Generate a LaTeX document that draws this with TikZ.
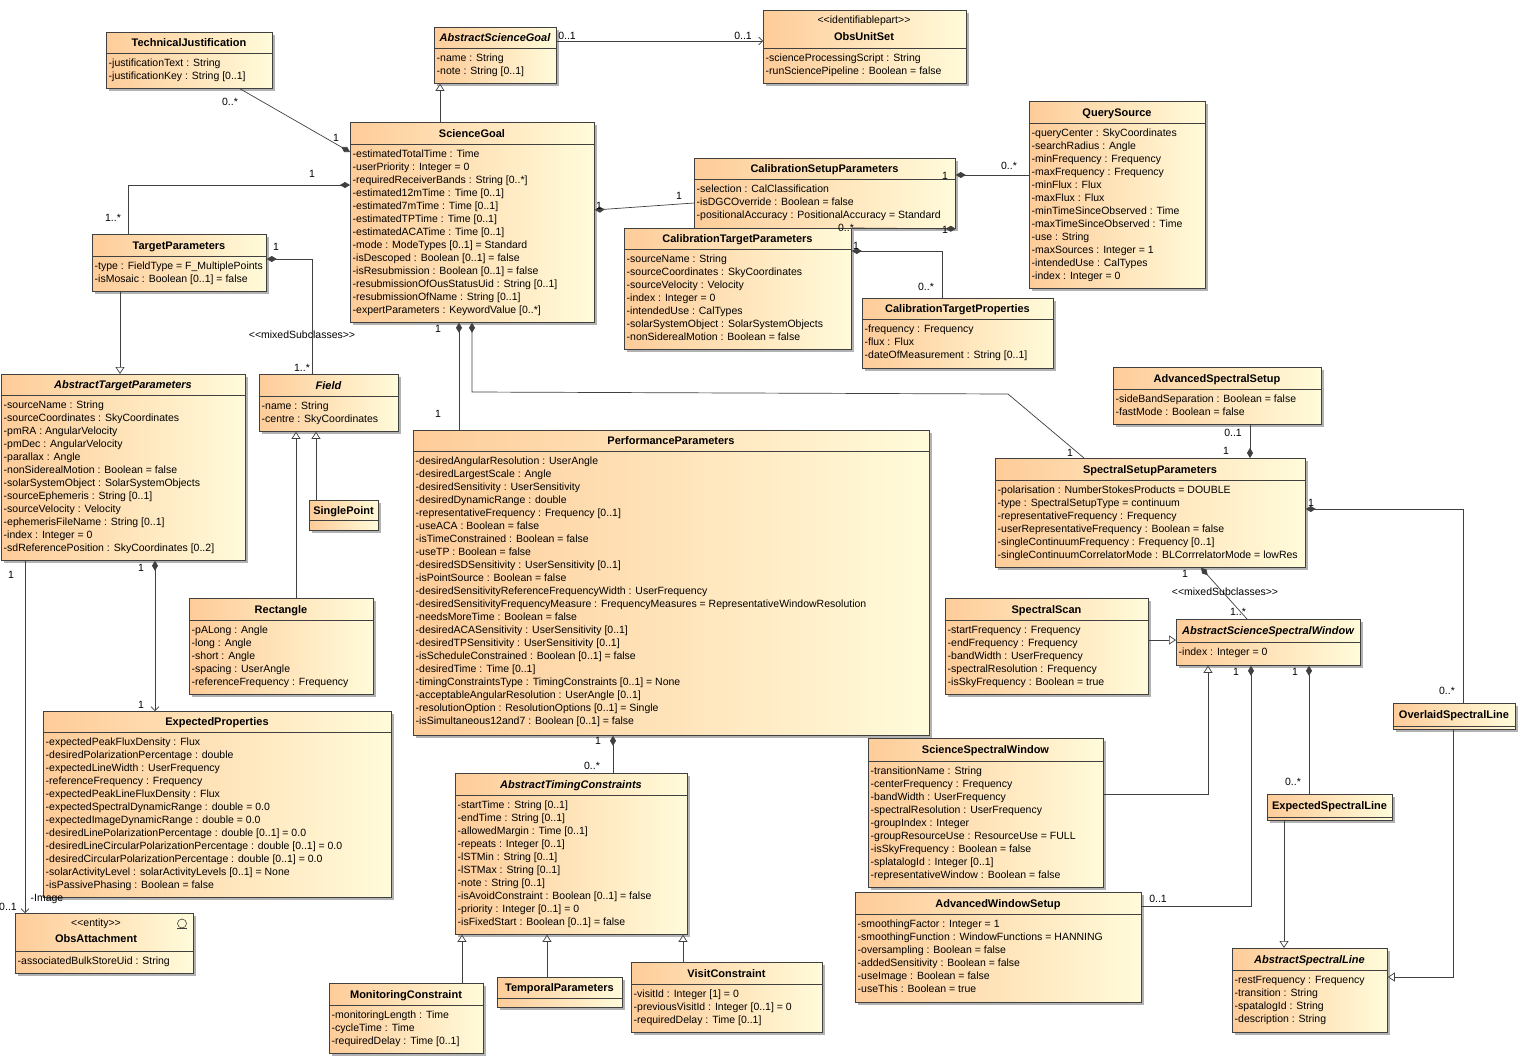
\documentclass[tikz,border=0pt]{standalone}
\usepackage{fontspec}
\setmainfont{Liberation Sans}
\usetikzlibrary{arrows.meta,shadows}
\definecolor{clsA}{RGB}{254,204,153}
\definecolor{clsB}{RGB}{255,251,218}
\definecolor{clsborder}{RGB}{64,64,64}
\definecolor{assoc}{RGB}{64,64,64}

\tikzset{
  cls/.style={draw=clsborder, line width=0.8pt, left color=clsA, right color=clsB, inner sep=0pt,
    drop shadow={shadow xshift=3pt, shadow yshift=-3pt, fill=black!30, opacity=1}},
  clsline/.style={draw=clsborder, line width=0.8pt},
  clsname/.style={anchor=base, inner sep=0pt, font=\fontsize{11}{13}\selectfont\bfseries},
  clsattr/.style={anchor=north west, inner sep=0pt, align=left},
  stereo/.style={anchor=base, inner sep=0pt},
  mult/.style={inner sep=0pt},
  link/.style={draw=assoc, line width=0.7pt},
  comp/.style={link, arrows={Diamond[length=10pt,width=6pt]-}},
  compnav/.style={link, arrows={Diamond[length=10pt,width=6pt]-Straight Barb[length=4pt,width=8pt]}},
  nav/.style={link, arrows={-Straight Barb[length=4pt,width=8pt]}},
  gen/.style={link, arrows={-Triangle[length=7pt,width=9pt,fill=white]}}
}

\newcommand{\lguil}{<\kern0pt<}
\newcommand{\rguil}{>\kern0pt>}
% name, left, top, right, separator, bottom, title, attributes
\newcommand{\umlclass}[8]{%
  \node[cls, anchor=north west, minimum width={(#4)-(#2)}, minimum height={(#6)-(#3)}] (#1) at (#2,#3) {};
  \draw[clsline] (#2,#5) -- (#4,#5);
  \node[clsname] (#1-n) at ({(#2+#4)/2},{(#3+#5)/2+4}) {#7};
  \node[clsattr] (#1-a) at (#2+2.5,#5+4.5) {\rule{0pt}{9pt}#8};
}

\begin{document}
\begin{tikzpicture}[x=1pt, y=-1pt, font=\fontsize{10.5}{13}\selectfont]
\fill[white] (0,0) rectangle (1534,1063);
\useasboundingbox (0,0) rectangle (1534,1063);

\umlclass{tj}{106}{32}{272}{53}{88}{TechnicalJustification}{-justificationText : String\\-justificationKey : String [0..1]}
\umlclass{asg}{434}{27}{556}{48}{83}{\itshape AbstractScienceGoal}{-name : String\\-note : String [0..1]}
\umlclass{ous}{763}{10}{966}{48}{83}{}{-scienceProcessingScript : String\\-runSciencePipeline : Boolean = false}
\node[stereo] (ous-s) at (864,23.5) {\lguil identifiablepart\rguil};
\node[clsname] (ous-t) at (864,40) {ObsUnitSet};
\umlclass{sg}{350}{122}{594}{144}{322}{ScienceGoal}{-estimatedTotalTime : Time\\-userPriority : Integer = 0\\-requiredReceiverBands : String [0..*]\\-estimated12mTime : Time [0..1]\\-estimated7mTime : Time [0..1]\\-estimatedTPTime : Time [0..1]\\-estimatedACATime : Time [0..1]\\-mode : ModeTypes [0..1] = Standard\\-isDescoped : Boolean [0..1] = false\\-isResubmission : Boolean [0..1] = false\\-resubmissionOfOusStatusUid : String [0..1]\\-resubmissionOfName : String [0..1]\\-expertParameters : KeywordValue [0..*]}
\umlclass{qs}{1029}{101}{1205}{123}{288}{QuerySource}{-queryCenter : SkyCoordinates\\-searchRadius : Angle\\-minFrequency : Frequency\\-maxFrequency : Frequency\\-minFlux : Flux\\-maxFlux : Flux\\-minTimeSinceObserved : Time\\-maxTimeSinceObserved : Time\\-use : String\\-maxSources : Integer = 1\\-intendedUse : CalTypes\\-index : Integer = 0}
\umlclass{csp}{694}{158}{955}{179}{228}{CalibrationSetupParameters}{-selection : CalClassification\\-isDGCOverride : Boolean = false\\-positionalAccuracy : PositionalAccuracy = Standard}
\umlclass{ctp}{624}{228}{851}{249}{349}{CalibrationTargetParameters}{-sourceName : String\\-sourceCoordinates : SkyCoordinates\\-sourceVelocity : Velocity\\-index : Integer = 0\\-intendedUse : CalTypes\\-solarSystemObject : SolarSystemObjects\\-nonSiderealMotion : Boolean = false}
\umlclass{ctpr}{862}{298}{1053}{319}{368}{CalibrationTargetProperties}{-frequency : Frequency\\-flux : Flux\\-dateOfMeasurement : String [0..1]}
\umlclass{tp}{92}{234}{266}{256}{291}{TargetParameters}{-type : FieldType = F\_MultiplePoints\\-isMosaic : Boolean [0..1] = false}
\umlclass{atp}{1}{374}{245}{395}{560}{\itshape AbstractTargetParameters}{-sourceName : String\\-sourceCoordinates : SkyCoordinates\\-pmRA : AngularVelocity\\-pmDec : AngularVelocity\\-parallax : Angle\\-nonSiderealMotion : Boolean = false\\-solarSystemObject : SolarSystemObjects\\-sourceEphemeris : String [0..1]\\-sourceVelocity : Velocity\\-ephemerisFileName : String [0..1]\\-index : Integer = 0\\-sdReferencePosition : SkyCoordinates [0..2]}
\umlclass{fld}{259}{374}{398}{396}{431}{\itshape Field}{-name : String\\-centre : SkyCoordinates}
\umlclass{sp}{309}{500}{378}{520}{530}{SinglePoint}{}
\umlclass{rect}{189}{598}{373}{620}{694}{Rectangle}{-pALong : Angle\\-long : Angle\\-short : Angle\\-spacing : UserAngle\\-referenceFrequency : Frequency}
\umlclass{ep}{43}{711}{391}{732}{897}{ExpectedProperties}{-expectedPeakFluxDensity : Flux\\-desiredPolarizationPercentage : double\\-expectedLineWidth : UserFrequency\\-referenceFrequency : Frequency\\-expectedPeakLineFluxDensity : Flux\\-expectedSpectralDynamicRange : double = 0.0\\-expectedImageDynamicRange : double = 0.0\\-desiredLinePolarizationPercentage : double [0..1] = 0.0\\-desiredLineCircularPolarizationPercentage : double [0..1] = 0.0\\-desiredCircularPolarizationPercentage : double [0..1] = 0.0\\-solarActivityLevel : solarActivityLevels [0..1] = None\\-isPassivePhasing : Boolean = false}
\umlclass{oa}{15}{913}{193}{951}{973}{}{-associatedBulkStoreUid : String}
\node[stereo] (oa-s) at (96,926.5) {\lguil entity\rguil};
\node[clsname] (oa-t) at (96,942) {ObsAttachment};
\draw[clsline, line width=0.6pt] (182,923.5) circle (4.5pt);
\draw[clsline, line width=0.6pt] (177,928.5) -- (187,928.5);
\umlclass{pp}{413}{430}{929}{451}{735}{PerformanceParameters}{-desiredAngularResolution : UserAngle\\-desiredLargestScale : Angle\\-desiredSensitivity : UserSensitivity\\-desiredDynamicRange : double\\-representativeFrequency : Frequency [0..1]\\-useACA : Boolean = false\\-isTimeConstrained : Boolean = false\\-useTP : Boolean = false\\-desiredSDSensitivity : UserSensitivity [0..1]\\-isPointSource : Boolean = false\\-desiredSensitivityReferenceFrequencyWidth : UserFrequency\\-desiredSensitivityFrequencyMeasure : FrequencyMeasures = RepresentativeWindowResolution\\-needsMoreTime : Boolean = false\\-desiredACASensitivity : UserSensitivity [0..1]\\-desiredTPSensitivity : UserSensitivity [0..1]\\-isScheduleConstrained : Boolean [0..1] = false\\-desiredTime : Time [0..1]\\-timingConstraintsType : TimingConstraints [0..1] = None\\-acceptableAngularResolution : UserAngle [0..1]\\-resolutionOption : ResolutionOptions [0..1] = Single\\-isSimultaneous12and7 : Boolean [0..1] = false}
\umlclass{atc}{455}{773}{687}{795}{934}{\itshape AbstractTimingConstraints}{-startTime : String [0..1]\\-endTime : String [0..1]\\-allowedMargin : Time [0..1]\\-repeats : Integer [0..1]\\-lSTMin : String [0..1]\\-lSTMax : String [0..1]\\-note : String [0..1]\\-isAvoidConstraint : Boolean [0..1] = false\\-priority : Integer [0..1] = 0\\-isFixedStart : Boolean [0..1] = false}
\umlclass{mc}{329}{983}{483}{1005}{1053}{MonitoringConstraint}{-monitoringLength : Time\\-cycleTime : Time\\-requiredDelay : Time [0..1]}
\umlclass{tpar}{497}{977}{622}{998}{1007}{TemporalParameters}{}
\umlclass{vc}{631}{962}{822}{984}{1032}{VisitConstraint}{-visitId : Integer [1] = 0\\-previousVisitId : Integer [0..1] = 0\\-requiredDelay : Time [0..1]}
\umlclass{ass}{1113}{367}{1321}{389}{424}{AdvancedSpectralSetup}{-sideBandSeparation : Boolean = false\\-fastMode : Boolean = false}
\umlclass{ssp}{995}{458}{1305}{480}{567}{SpectralSetupParameters}{-polarisation : NumberStokesProducts = DOUBLE\\-type : SpectralSetupType = continuum\\-representativeFrequency : Frequency\\-userRepresentativeFrequency : Boolean = false\\-singleContinuumFrequency : Frequency [0..1]\\-singleContinuumCorrelatorMode : BLCorrrelatorMode = lowRes}
\umlclass{ss}{945}{598}{1148}{620}{694}{SpectralScan}{-startFrequency : Frequency\\-endFrequency : Frequency\\-bandWidth : UserFrequency\\-spectralResolution : Frequency\\-isSkyFrequency : Boolean = true}
\umlclass{assw}{1176}{619}{1360}{642}{665}{\itshape AbstractScienceSpectralWindow}{-index : Integer = 0}
\umlclass{scisw}{868}{738}{1103}{761}{887}{ScienceSpectralWindow}{-transitionName : String\\-centerFrequency : Frequency\\-bandWidth : UserFrequency\\-spectralResolution : UserFrequency\\-groupIndex : Integer\\-groupResourceUse : ResourceUse = FULL\\-isSkyFrequency : Boolean = false\\-splatalogId : Integer [0..1]\\-representativeWindow : Boolean = false}
\umlclass{aws}{855}{892}{1141}{914}{1002}{AdvancedWindowSetup}{-smoothingFactor : Integer = 1\\-smoothingFunction : WindowFunctions = HANNING\\-oversampling : Boolean = false\\-addedSensitivity : Boolean = false\\-useImage : Boolean = false\\-useThis : Boolean = true}
\umlclass{esl}{1267}{794}{1392}{817}{820}{ExpectedSpectralLine}{}
\umlclass{osl}{1393}{703}{1515}{726}{729}{OverlaidSpectralLine}{}
\umlclass{asl}{1232}{948}{1387}{970}{1032}{\itshape AbstractSpectralLine}{-restFrequency : Frequency\\-transition : String\\-spatalogId : String\\-description : String}

\draw[comp] (sg.west |- 0,152) -- (tj.south -| 240,0) node[mult] at (336,138) {1} node[mult] at (230,102) {0..*};
\draw[comp] (sg.west |- 0,185) -| (tp.north -| 128,0) node[mult] at (312,174) {1} node[mult] at (113,218) {1..*};
\draw[comp] (tp.east |- 0,259) -| (fld.north -| 312,0) node[mult] at (276,247) {1} node[mult] at (302,368) {1..*}
  node[mult] at (302,335) {\lguil mixedSubclasses\rguil};
\draw[gen] (sg.north -| 440,0) -- (asg.south -| 440,0);
\draw[nav] (asg.east |- 0,41) -- (ous.west |- 0,41) node[mult] at (567,36) {0..1} node[mult] at (743,36) {0..1};
\draw[comp] (sg.east |- 0,210) -- (csp.west |- 0,203) node[mult] at (599,206) {1} node[mult] at (679,196) {1};
\draw[comp] (csp.east |- 0,175) -- (qs.west |- 0,175) node[mult] at (945,176) {1} node[mult] at (1009,166) {0..*};
\draw[comp] (csp.south east) -- (ctp.north east) node[mult] at (945,230) {1} node[mult] at (846,228) {0..*};
\draw[comp] (ctp.east |- 0,251) -| (ctpr.north -| 942,0) node[mult] at (856,246) {1} node[mult] at (926,287) {0..*};
\draw[comp] (sg.south -| 459,0) -- (pp.north -| 459,0) node[mult] at (438,329) {1} node[mult] at (438,414) {1};
\draw[comp] (sg.south -| 472,0) -- (472,392) -- (1008,394) -- (ssp.north -| 1084,0) node[mult] at (1070,453) {1};
\draw[comp] (ssp.north -| 1250,0) -- (ass.south -| 1250,0) node[mult] at (1226,451) {1} node[mult] at (1233,433) {0..1};
\draw[comp] (ssp.east |- 0,509) -| (osl.north -| 1463,0) node[mult] at (1311,503) {1} node[mult] at (1447,691) {0..*};
\draw[comp] (ssp.south -| 1201,0) -- (assw.north -| 1247,0) node[mult] at (1185,574) {1}
  node[mult] at (1225,592) {\lguil mixedSubclasses\rguil} node[mult] at (1238,612) {1..*};
\draw[gen] (ss.east |- 0,640) -- (assw.west |- 0,640);
\draw[gen] (scisw.east |- 0,794) -| (assw.south -| 1208,0);
\draw[comp] (assw.south -| 1251,0) |- (aws.east |- 0,906) node[mult] at (1236,672) {1} node[mult] at (1158,899) {0..1};
\draw[comp] (assw.south -| 1309,0) -- (esl.north -| 1309,0) node[mult] at (1295,672) {1} node[mult] at (1293,782) {0..*};
\draw[gen] (esl.south -| 1284,0) -- (asl.north -| 1284,0);
\draw[gen] (osl.south -| 1453,0) |- (asl.east |- 0,977);
\draw[comp] (pp.south -| 613,0) -- (atc.north -| 613,0) node[mult] at (598,741) {1} node[mult] at (592,766) {0..*};
\draw[gen] (mc.north -| 462,0) -- (atc.south -| 462,0);
\draw[gen] (tpar.north -| 547,0) -- (atc.south -| 547,0);
\draw[gen] (vc.north -| 683,0) -- (atc.south -| 683,0);
\draw[gen] (tp.south -| 120,0) -- (atp.north -| 120,0);
\draw[gen] (rect.north -| 296,0) -- (fld.south -| 296,0);
\draw[gen] (sp.north -| 316,0) -- (fld.south -| 316,0);
\draw[compnav] (atp.south -| 155,0) -- (ep.north -| 155,0) node[mult] at (141,568) {1} node[mult] at (141,705) {1};
\draw[nav] (atp.south -| 25,0) -- (oa.north -| 25,0) node[mult] at (11,575) {1} node[mult] at (8,907) {0..1}
  node[mult] at (47,899) {-Image};
\end{tikzpicture}
\end{document}
